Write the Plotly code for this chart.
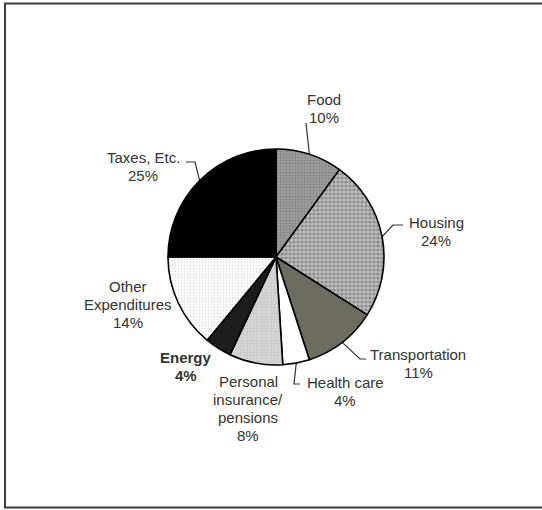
import math
import plotly.graph_objects as go

# Household spending shares
categories = ["Food", "Housing", "Transportation", "Health care",
              "Personal insurance/ pensions", "Energy", "Other Expenditures", "Taxes, Etc."]
shares = [10, 24, 11, 4, 8, 4, 14, 25]
label_lines = [["Food"], ["Housing"], ["Transportation"], ["Health care"],
               ["Personal", "insurance/", "pensions"], ["Energy"],
               ["Other", "Expenditures"], ["Taxes, Etc."]]

# Slice fills
fill_colors = ["#9c9c9c", "#bdbdbd", "#6c6c60", "#ffffff", "#d6d6d6", "#1c1c1c", "#ffffff", "#000000"]
pattern_shapes = [".", ".", "", "", ".", "", ".", ""]
pattern_fg = ["#6e6e6e", "#5a5a5a", "#6c6c60", "#ffffff", "#b4b4b4", "#1c1c1c", "#c4c4c4", "#000000"]
pattern_size = [3, 4, 4, 4, 3, 4, 3, 4]
pattern_solidity = [0.35, 0.5, 0.3, 0.3, 0.3, 0.3, 0.3, 0.3]

# Layout in pixel units
W, H = 542, 510
CX, CY, R = 276, 257, 108
TEXT_COLOR = "#333333"
FONT = "Liberation Sans, Arial, sans-serif"
FS = 15
LINE_GAP = 18

# Label anchor (centre of first line) per slice
label_pos = [(324, 99), (436, 222), (418, 354), (345, 382),
             (248, 381), (186, 357), (128, 286), (143, 157)]
bold = [False, False, False, False, False, True, False, False]

# Leader-line elbows (from pie edge outwards); empty = no leader
leader_elbows = [[(306, 123)],
                 [(393, 225), (403, 225)],
                 [(360, 359), (366, 359)],
                 [(294, 384), (300, 384)],
                 [], [], [],
                 [(195, 162), (186, 162)]]

fig = go.Figure()

fig.add_trace(go.Pie(
    labels=categories,
    values=shares,
    sort=False,
    direction="clockwise",
    rotation=0,
    textinfo="none",
    hoverinfo="label+percent",
    showlegend=False,
    marker=dict(
        colors=fill_colors,
        line=dict(color="#000000", width=1.6),
        pattern=dict(shape=pattern_shapes, fgcolor=pattern_fg, bgcolor=fill_colors,
                     size=pattern_size, solidity=pattern_solidity, fillmode="overlay"),
    ),
    domain=dict(x=[(CX - R) / W, (CX + R) / W],
                y=[1 - (CY + R) / H, 1 - (CY - R) / H]),
))

# Leader lines start at each slice's mid-angle on the rim
total = sum(shares)
cum = 0
for i, v in enumerate(shares):
    mid = (cum + v / 2) / total * 2 * math.pi
    cum += v
    if not leader_elbows[i]:
        continue
    ax = CX + R * math.sin(mid)
    ay = CY - R * math.cos(mid)
    pts = [(ax, ay)] + leader_elbows[i]
    fig.add_trace(go.Scatter(
        x=[p[0] for p in pts], y=[p[1] for p in pts],
        mode="lines", line=dict(color=TEXT_COLOR, width=1.2),
        hoverinfo="skip", showlegend=False,
    ))

# Category names and percentages
for i, v in enumerate(shares):
    x0, y0 = label_pos[i]
    lines = label_lines[i] + [f"{v}%"]
    for k, txt in enumerate(lines):
        t = f"<b>{txt}</b>" if bold[i] else txt
        fig.add_annotation(x=x0, y=y0 + k * LINE_GAP, text=t, showarrow=False,
                           xref="x", yref="y", xanchor="center", yanchor="middle",
                           font=dict(family=FONT, size=FS, color=TEXT_COLOR))

# Outer frame
fig.add_shape(type="rect", xref="x", yref="y", x0=5, y0=3.5, x1=560, y1=507.5,
              line=dict(color="#3c3c3c", width=2), fillcolor="rgba(0,0,0,0)", layer="below")

fig.update_layout(
    width=W, height=H,
    margin=dict(l=0, r=0, t=0, b=0),
    paper_bgcolor="#ffffff", plot_bgcolor="#ffffff",
    xaxis=dict(range=[0, W], visible=False, fixedrange=True),
    yaxis=dict(range=[H, 0], visible=False, fixedrange=True),
    showlegend=False,
)

fig.write_html("out.html")
